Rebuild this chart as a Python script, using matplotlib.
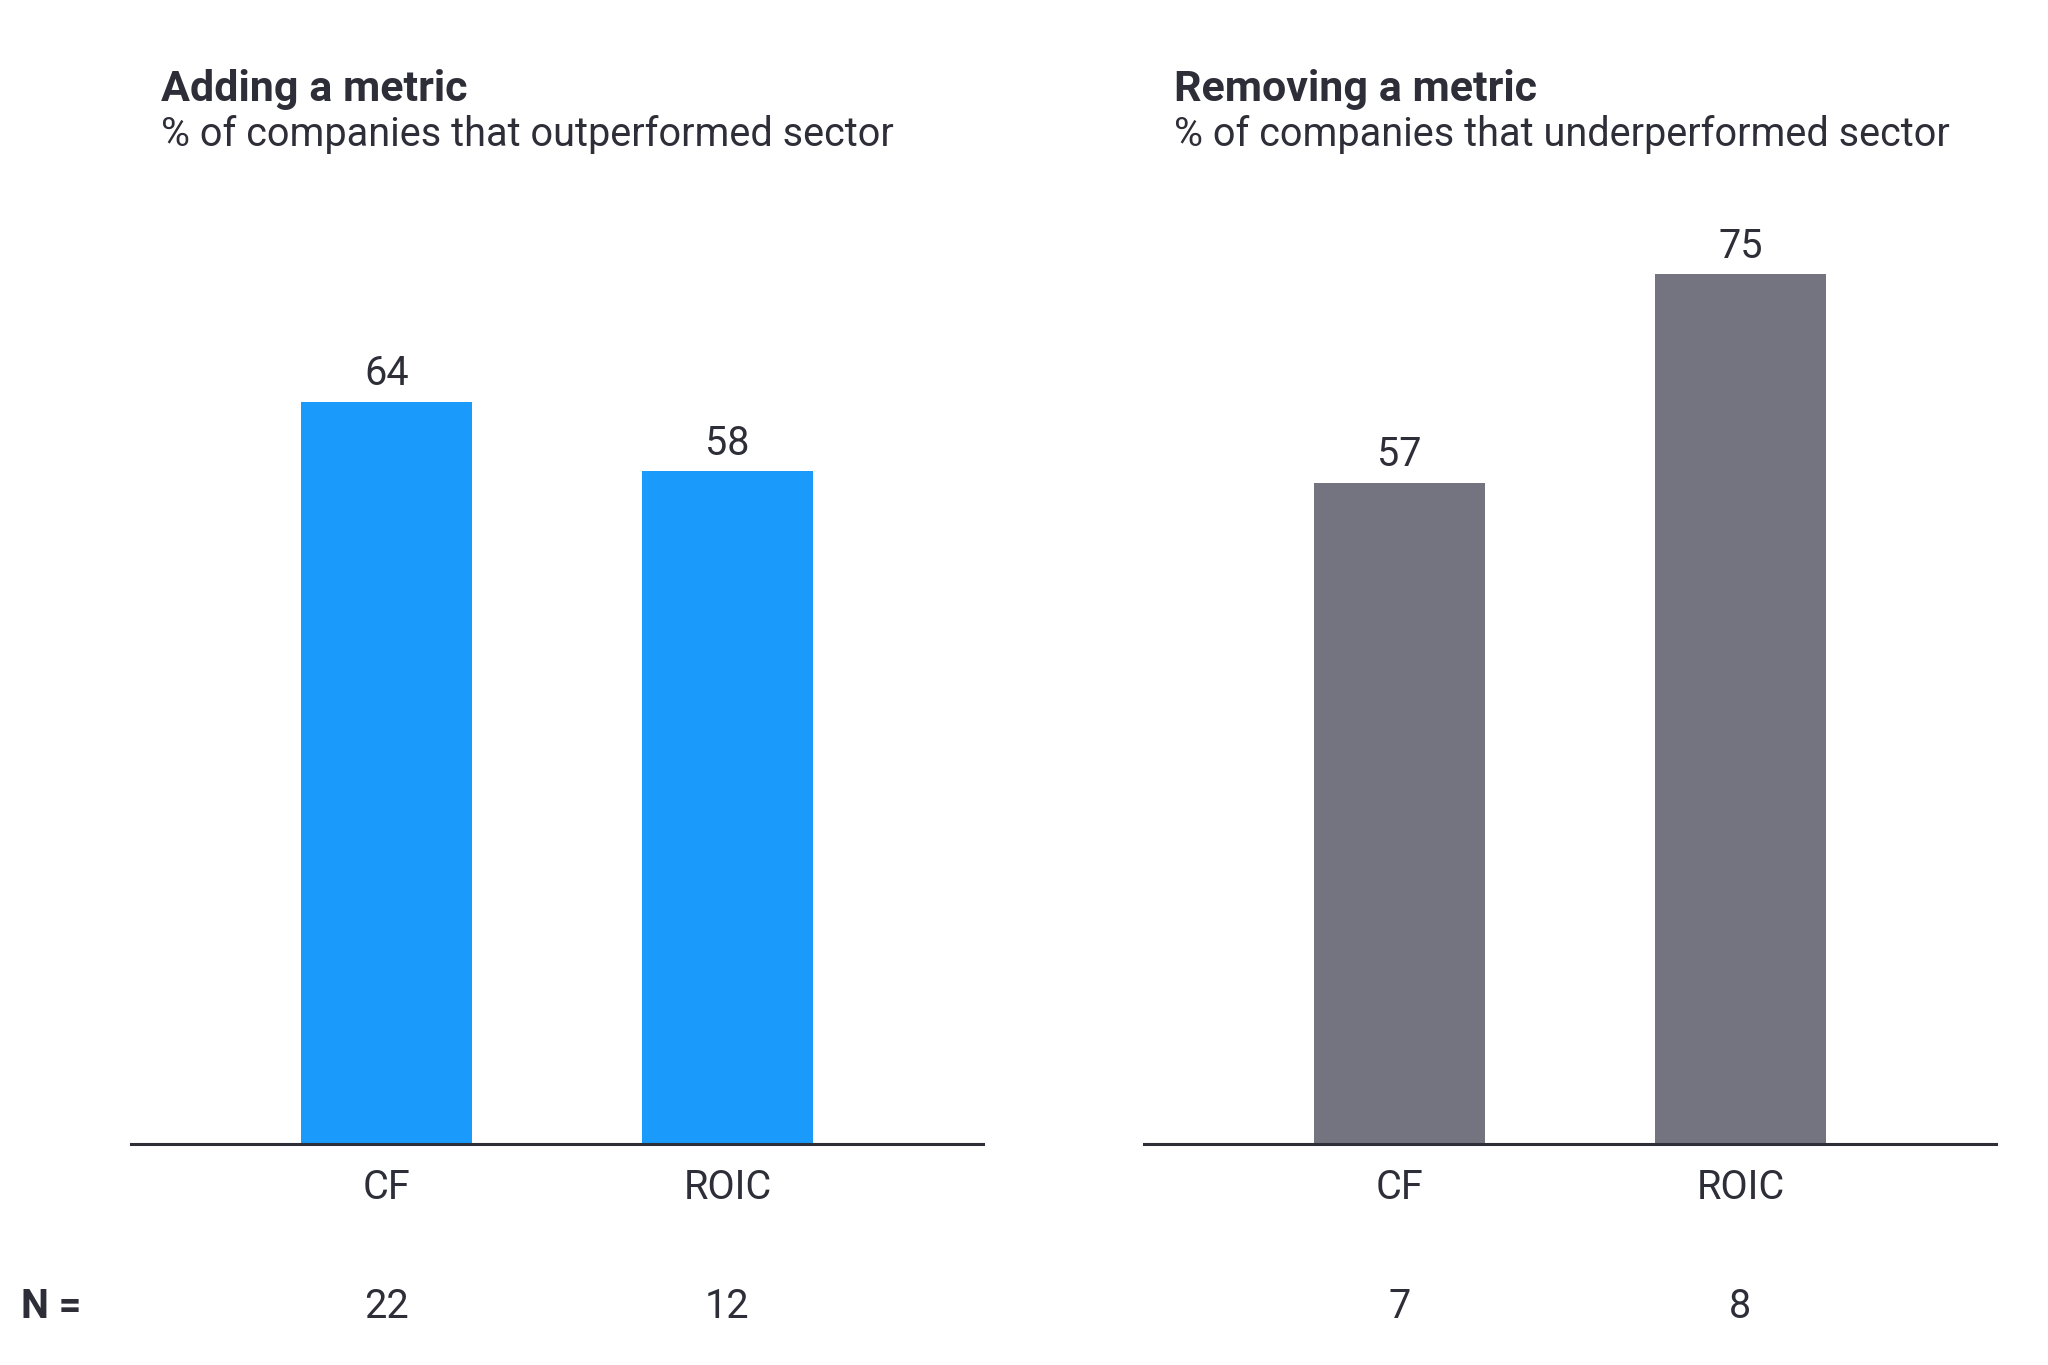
import matplotlib
matplotlib.use("Agg")
import matplotlib.pyplot as plt

categories = ["CF", "ROIC"]
adding_values = [64, 58]
removing_values = [57, 75]
adding_n = [22, 12]
removing_n = [7, 8]

panels = [
	("Adding a metric", "% of companies that outperformed sector", adding_values, adding_n, "#1A9AFA"),
	("Removing a metric", "% of companies that underperformed sector", removing_values, removing_n, "#747480"),
]

TEXT = "#2E2E38"
plt.rcParams['font.family'] = ['Roboto', 'DejaVu Sans']

fig = plt.figure(figsize=(20.48, 13.65), dpi=100)

W, H = 2048, 1365
axis_y = 1144
lefts = [131 / W, 1144 / W]
title_x = [161 / W, 1174 / W]
for left, tx, (title, subtitle, values, ns, color) in zip(lefts, title_x, panels):
	ax = fig.add_axes([left, 1 - axis_y / H, 852 / W, 928 / H])
	x = list(range(len(categories)))
	bars = ax.bar(x, values, width=0.5, color=color, zorder=2)
	ax.set_xlim(-0.75, 1.75)
	ax.set_ylim(0, 80)
	for s in ["top", "right", "left"]:
		ax.spines[s].set_visible(False)
	ax.spines["bottom"].set_color(TEXT)
	ax.spines["bottom"].set_linewidth(2.2)
	ax.spines["bottom"].set_zorder(3)
	ax.set_yticks([])
	ax.set_xticks(x)
	ax.set_xticklabels(categories, fontsize=28.5, color=TEXT)
	ax.tick_params(axis="x", length=0, pad=17)
	for b, v in zip(bars, values):
		ax.annotate(f"{v}", (b.get_x() + b.get_width() / 2, v), xytext=(0, 6),
			textcoords="offset points", ha="center", va="bottom", fontsize=28.5, color=TEXT)
	for xi, n in zip(x, ns):
		ax.annotate(f"{n}", (xi, 0), xytext=(0, -117), textcoords="offset points",
			ha="center", va="center", fontsize=28.5, color=TEXT, annotation_clip=False)
	# titles
	fig.text(tx, 1 - 90 / H, title, fontsize=31, fontweight="bold", color=TEXT, va="center", ha="left")
	fig.text(tx, 1 - 134 / H, subtitle, fontsize=28.5, color=TEXT, va="center", ha="left")

fig.text(21 / W, 1 - 1307 / H, "N =", fontsize=28.5, fontweight="bold", color=TEXT, va="center", ha="left")

fig.savefig("out.png", dpi=100, facecolor="white")
